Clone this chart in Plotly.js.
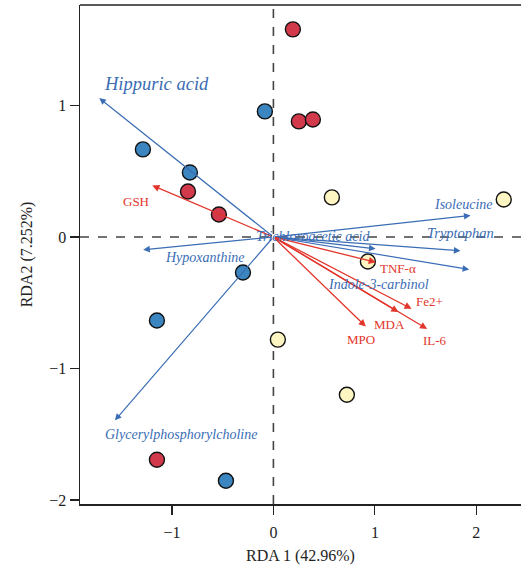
<!DOCTYPE html>
<html>
<head>
<meta charset="utf-8">
<script src="https://cdn.plot.ly/plotly-3.0.1.min.js"></script>
<style>html,body{margin:0;padding:0;background:#fff;}#chart{width:521px;height:573px;}</style>
</head>
<body>
<div id="chart"></div>
<script>
// Sample scores
const blueX = [-1.286, -0.823, -0.084, -0.300, -1.148, -0.468];
const blueY = [0.666, 0.491, 0.955, -0.270, -0.635, -1.853];
const redX = [0.192, 0.251, 0.389, -0.842, -0.537, -1.148];
const redY = [1.579, 0.879, 0.894, 0.346, 0.171, -1.693];
const yellowX = [0.576, 2.270, 0.931, 0.044, 0.724];
const yellowY = [0.301, 0.285, -0.186, -0.780, -1.199];

// Metabolite vectors (blue)
const metabNames = ["Hippuric acid", "Hypoxanthine", "Glycerylphosphorylcholine", "Isoleucine", "Trichloroacetic acid", "Tryptophan", "Indole-3-carbinol"];
const metabX = [-1.716, -1.283, -1.562, 1.943, 1.007, 1.844, 1.929];
const metabY = [1.056, -0.097, -1.394, 0.164, -0.090, -0.105, -0.247];
const metabLabelX = [-1.148, -0.675, -0.911, 1.877, 0.389, 1.847, 1.039];
const metabLabelY = [1.160, -0.156, -1.503, 0.247, 0.004, 0.027, -0.361];
const metabLabelSize = [18.5, 14, 14, 14, 14, 14.5, 14];

// Index vectors (red)
const indexNames = ["GSH", "TNF-α", "Fe2+", "MDA", "IL-6", "MPO"];
const indexX = [-1.194, 1.010, 1.362, 1.232, 1.515, 0.911];
const indexY = [0.392, -0.192, -0.546, -0.571, -0.699, -0.681];
const indexLabelX = [-1.355, 1.227, 1.542, 1.148, 1.591, 0.862];
const indexLabelY = [0.270, -0.240, -0.491, -0.666, -0.788, -0.780];

const blueArrow = "#3a6db5";
const redArrow = "#e2352b";
const serif = "Liberation Serif, DejaVu Serif, serif";

function pts(x, y, color) {
  return {
    x: x, y: y, type: "scatter", mode: "markers", showlegend: false, hoverinfo: "skip",
    marker: {size: 15, color: color, line: {color: "#111", width: 1.4}}
  };
}

const annotations = [];
metabNames.forEach((n, i) => {
  annotations.push({x: metabX[i], y: metabY[i], ax: 0, ay: 0, axref: "x", ayref: "y", xref: "x", yref: "y",
    text: "", showarrow: true, arrowhead: 2, arrowsize: 1.1, arrowwidth: 1.2, arrowcolor: blueArrow, standoff: 0, startstandoff: 0});
});
indexNames.forEach((n, i) => {
  annotations.push({x: indexX[i], y: indexY[i], ax: 0, ay: 0, axref: "x", ayref: "y", xref: "x", yref: "y",
    text: "", showarrow: true, arrowhead: 2, arrowsize: 1.1, arrowwidth: 1.3, arrowcolor: redArrow, standoff: 0, startstandoff: 0});
});
metabNames.forEach((n, i) => {
  annotations.push({x: metabLabelX[i], y: metabLabelY[i], xref: "x", yref: "y", showarrow: false,
    text: "<i>" + n + "</i>", font: {family: serif, size: metabLabelSize[i], color: blueArrow}});
});
indexNames.forEach((n, i) => {
  annotations.push({x: indexLabelX[i], y: indexLabelY[i], xref: "x", yref: "y", showarrow: false,
    text: n, font: {family: serif, size: 13, color: redArrow}});
});

const layout = {
  width: 521, height: 573,
  margin: {l: 80, r: 0, t: 5, b: 69},
  paper_bgcolor: "#fff", plot_bgcolor: "#fff",
  font: {family: serif, size: 16, color: "#222"},
  xaxis: {
    range: [-1.906, 2.44], tickvals: [-1, 0, 1, 2], ticktext: ["\u22121", "0", "1", "2"],
    showgrid: false, zeroline: false, showline: true, linecolor: "#222", linewidth: 1.5,
    ticks: "outside", ticklen: 9, tickwidth: 1.2, tickcolor: "#222", ticklabelstandoff: 4,
    tickfont: {family: serif, size: 16, color: "#222"},
    title: {text: "RDA 1 (42.96%)", font: {family: serif, size: 16, color: "#222"}, standoff: 10}
  },
  yaxis: {
    range: [-2.03, 1.764], tickvals: [-2, -1, 0, 1], ticktext: ["\u22122", "\u22121", "0", "1"],
    showgrid: false, zeroline: false, showline: true, linecolor: "#222", linewidth: 1.5,
    ticks: "outside", ticklen: 9, tickwidth: 1.2, tickcolor: "#222",
    tickfont: {family: serif, size: 16, color: "#222"},
    title: {text: "RDA2 (7.252%)", font: {family: serif, size: 16, color: "#222"}, standoff: 12}
  },
  shapes: [
    {type: "line", xref: "paper", yref: "paper", x0: 0, x1: 1, y0: 1, y1: 1, line: {color: "#222", width: 1.5}},
    {type: "line", xref: "x", yref: "paper", x0: 0, x1: 0, y0: 0, y1: 1, line: {color: "#444", width: 1.6, dash: "dash"}, layer: "below"},
    {type: "line", xref: "paper", yref: "y", x0: 0, x1: 1, y0: 0, y1: 0, line: {color: "#444", width: 1.6, dash: "dash"}, layer: "below"}
  ],
  annotations: annotations
};

Plotly.newPlot("chart", [pts(blueX, blueY, "#3b86c0"), pts(redX, redY, "#d23a4c"), pts(yellowX, yellowY, "#fdf5c2")], layout, {staticPlot: true});
</script>
</body>
</html>
